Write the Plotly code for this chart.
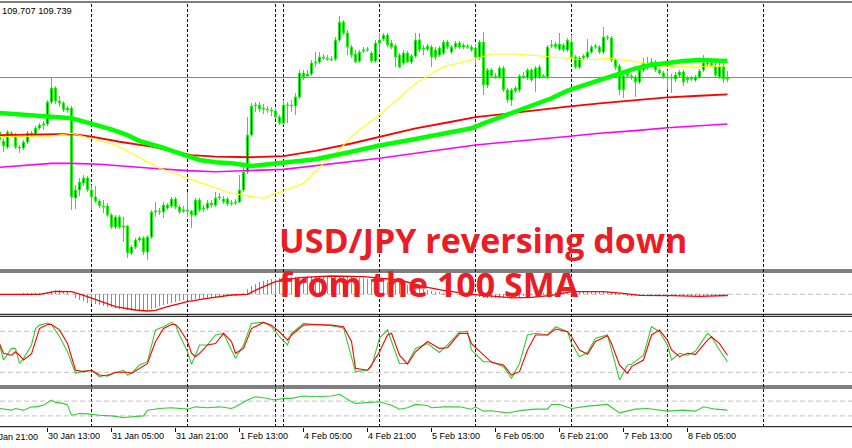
import plotly.graph_objects as go

# ---------------- DATA (USDJPY H1) ----------------
first_bar = -23  # bar index of first candle (bar 0 = 31 Jan 00:00)

opens = [109.311,109.304,109.263,109.359,109.345,109.263,109.256,109.297,109.359,109.352,
 109.393,109.414,109.421,109.571,109.667,109.578,109.564,109.517,109.530,108.914,
 108.969,109.017,109.051,108.969,108.921,108.893,108.859,108.859,108.797,108.715,
 108.784,108.715,108.722,108.537,108.578,108.626,108.640,108.544,108.647,108.818,
 108.825,108.818,108.845,108.859,108.907,108.852,108.825,108.832,108.825,108.797,
 108.900,108.838,108.845,108.879,108.866,108.914,108.907,108.907,108.873,108.879,
 108.886,108.969,109.092,109.345,109.544,109.551,109.523,109.523,109.517,109.510,
 109.469,109.427,109.544,109.551,109.544,109.606,109.770,109.749,109.763,109.838,
 109.845,109.880,109.873,109.866,109.866,109.996,110.119,110.044,109.948,109.900,
 109.852,109.921,109.928,109.907,109.852,109.975,110.003,110.030,109.975,109.955,
 109.893,109.838,109.907,109.845,109.886,109.996,109.934,109.934,109.948,109.928,
 109.893,109.907,109.982,109.914,109.948,109.975,109.948,109.955,109.948,109.941,
 109.880,109.982,109.688,109.791,109.749,109.743,109.804,109.654,109.585,109.667,
 109.654,109.743,109.736,109.791,109.736,109.811,109.743,109.743,109.955,109.969,
 109.934,109.962,109.928,109.982,109.880,109.811,109.873,109.880,109.914,109.948,
 109.948,109.914,110.017,110.010,109.859,109.818,109.749,109.763,109.749,109.743,
 109.708,109.791,109.832,109.838,109.845,109.791,109.770,109.743,109.743,109.729,
 109.756,109.777,109.736,109.729,109.722,109.743,109.791,109.838,109.838,109.818,
 109.743,109.818,109.729]

highs = [109.380,109.325,109.380,109.373,109.359,109.277,109.311,109.373,109.373,109.407,
 109.427,109.441,109.585,109.743,109.681,109.612,109.578,109.544,109.544,109.003,
 109.051,109.071,109.064,109.003,108.996,108.907,108.900,108.879,108.811,108.797,
 108.797,108.784,108.729,108.592,108.640,108.653,108.653,108.660,108.832,108.886,
 108.845,108.886,108.879,108.921,108.921,108.866,108.859,108.955,108.832,108.914,
 108.914,108.866,108.900,108.900,108.955,108.948,108.927,108.921,108.900,108.907,
 109.071,109.140,109.469,109.564,109.571,109.571,109.558,109.544,109.537,109.530,
 109.482,109.585,109.571,109.585,109.633,109.791,109.791,109.791,109.859,109.914,
 109.914,109.900,109.893,109.886,110.017,110.160,110.133,110.065,109.962,109.928,
 109.928,109.948,109.948,109.921,109.996,110.044,110.044,110.044,109.996,109.969,
 109.907,109.928,109.921,109.900,110.044,110.044,109.962,109.969,109.962,109.948,
 109.955,109.996,109.996,109.962,109.989,109.989,109.975,109.969,109.962,109.969,
 109.996,110.051,109.804,109.804,109.770,109.818,109.818,109.667,109.667,109.681,
 109.763,109.777,109.804,109.804,109.818,109.825,109.763,109.962,109.996,109.982,
 110.044,109.975,110.010,110.030,109.893,109.886,109.900,110.003,109.962,109.969,
 109.962,110.085,110.030,110.023,109.873,109.832,109.777,109.791,109.763,109.756,
 109.804,109.873,109.880,109.873,109.859,109.804,109.784,109.791,109.763,109.777,
 109.791,109.791,109.749,109.749,109.756,109.797,109.893,109.859,109.873,109.845,
 109.838,109.838,109.784]

lows = [109.297,109.229,109.249,109.332,109.249,109.222,109.243,109.284,109.332,109.338,
 109.380,109.380,109.407,109.558,109.558,109.537,109.503,109.496,108.832,108.838,
 108.927,108.996,108.955,108.832,108.879,108.845,108.811,108.784,108.701,108.701,
 108.701,108.612,108.503,108.523,108.564,108.612,108.523,108.489,108.633,108.784,
 108.797,108.777,108.832,108.845,108.838,108.804,108.811,108.784,108.708,108.784,
 108.818,108.818,108.832,108.845,108.852,108.900,108.873,108.859,108.859,108.866,
 108.879,108.955,109.078,109.332,109.503,109.503,109.489,109.496,109.475,109.455,
 109.414,109.414,109.427,109.503,109.482,109.592,109.722,109.736,109.749,109.811,
 109.832,109.859,109.852,109.852,109.852,109.982,110.030,109.893,109.873,109.838,
 109.838,109.907,109.914,109.838,109.838,109.907,109.989,109.948,109.934,109.811,
 109.804,109.825,109.838,109.832,109.873,109.914,109.893,109.921,109.811,109.859,
 109.880,109.893,109.934,109.900,109.934,109.934,109.934,109.934,109.914,109.825,
 109.859,109.619,109.667,109.736,109.729,109.729,109.640,109.564,109.544,109.633,
 109.640,109.729,109.722,109.708,109.640,109.729,109.736,109.729,109.941,109.934,
 109.921,109.914,109.914,109.866,109.797,109.797,109.859,109.866,109.900,109.934,
 109.900,109.900,109.996,109.845,109.791,109.619,109.599,109.736,109.722,109.606,
 109.695,109.777,109.791,109.818,109.777,109.756,109.729,109.654,109.633,109.708,
 109.736,109.681,109.701,109.715,109.708,109.729,109.777,109.818,109.811,109.743,
 109.729,109.701,109.707]

closes = [109.366,109.270,109.366,109.345,109.263,109.256,109.297,109.359,109.352,109.393,
 109.414,109.421,109.571,109.667,109.578,109.564,109.517,109.530,108.921,108.969,
 109.023,109.051,108.969,108.921,108.893,108.859,108.852,108.797,108.715,108.784,
 108.715,108.722,108.537,108.578,108.626,108.640,108.544,108.647,108.818,108.825,
 108.818,108.866,108.866,108.907,108.852,108.818,108.832,108.825,108.797,108.900,
 108.832,108.845,108.879,108.866,108.914,108.921,108.886,108.873,108.879,108.886,
 108.969,109.092,109.345,109.544,109.551,109.523,109.530,109.517,109.510,109.469,
 109.427,109.551,109.551,109.544,109.606,109.770,109.743,109.763,109.838,109.845,
 109.880,109.873,109.866,109.859,109.996,110.119,110.044,109.948,109.893,109.845,
 109.914,109.928,109.934,109.852,109.975,109.996,110.030,109.962,109.948,109.880,
 109.811,109.907,109.845,109.886,109.996,109.928,109.941,109.955,109.880,109.880,
 109.941,109.982,109.948,109.948,109.975,109.948,109.962,109.948,109.928,109.880,
 109.982,109.688,109.791,109.749,109.743,109.804,109.654,109.585,109.654,109.647,
 109.749,109.749,109.791,109.722,109.804,109.743,109.749,109.948,109.962,109.948,
 109.969,109.928,109.996,109.880,109.811,109.873,109.886,109.914,109.948,109.955,
 109.914,110.017,110.010,109.859,109.811,109.654,109.654,109.749,109.736,109.708,
 109.791,109.838,109.838,109.845,109.791,109.770,109.743,109.736,109.736,109.756,
 109.777,109.708,109.722,109.736,109.743,109.784,109.838,109.832,109.825,109.756,
 109.818,109.729,109.739]

# Moving averages (read at sample bars)
ma_green_idx = [-23,-15,-11,-5,-1,2,5,9,12,17,22,27,31,35,40,44,48,56,65,72,81,90,95,98,106,115,119,127,132,136,140,144,148,152,159]
ma_green = [109.496,109.482,109.469,109.460,109.430,109.407,109.384,109.345,109.304,109.265,
 109.220,109.174,109.158,109.151,109.133,109.145,109.151,109.179,109.231,109.273,
 109.318,109.362,109.391,109.425,109.505,109.597,109.649,109.722,109.768,109.802,
 109.825,109.841,109.852,109.859,109.852]
ma_red_idx = [-23,-10,-5,0,7,15,19,25,31,40,48,56,65,72,81,90,96,106,115,119,127,136,144,152,159]
ma_red = [109.345,109.352,109.352,109.334,109.299,109.265,109.243,109.208,109.197,109.193,
 109.201,109.236,109.287,109.332,109.391,109.436,109.467,109.498,109.528,109.539,
 109.562,109.585,109.603,109.614,109.624]
ma_yellow_idx = [-23,-15,-10,-5,0,6,10,17,24,30,35,40,43,46,48,53,58,62,65,67,72,81,88,95,100,106,115,119,123,130,136,144,152,159]
ma_yellow = [109.334,109.334,109.338,109.357,109.323,109.277,109.220,109.117,109.049,108.991,
 108.946,108.923,108.912,108.946,108.962,109.014,109.151,109.247,109.334,109.380,
 109.482,109.699,109.813,109.859,109.900,109.900,109.882,109.871,109.859,109.871,
 109.847,109.813,109.813,109.818]
ma_magenta_idx = [-23,-10,-5,2,15,24,31,40,48,72,96,119,127,136,144,152,159]
ma_magenta = [109.124,109.151,109.151,109.145,109.117,109.101,109.094,109.101,109.110,109.186,
 109.277,109.335,109.357,109.375,109.395,109.409,109.421]
bid_price = 109.739

# MACD histogram (every bar) and signal line
macd_hist = [0.002,0.002,0.003,0.003,0.002,0.003,0.004,0.004,0.005,0.006,0.008,0.012,
 0.02,0.035,0.04,0.04,0.035,0.03,0.0,
 -0.04,-0.055,-0.07,-0.085,-0.095,
 -0.1,-0.107,-0.115,-0.122,-0.13,-0.138,-0.145,-0.15,-0.158,-0.165,
 -0.167,-0.165,-0.162,-0.155,-0.145,-0.135,-0.12,-0.11,-0.1,-0.09,
 -0.08,-0.07,-0.06,-0.057,-0.052,-0.047,-0.044,-0.042,-0.04,-0.036,
 -0.032,-0.028,-0.024,-0.02,-0.016,-0.012,-0.005,0.015,0.05,0.085,
 0.105,0.122,0.135,0.145,0.152,0.158,0.163,0.168,0.17,0.173,
 0.175,0.176,0.178,0.18,0.18,0.181,0.182,0.182,0.182,0.18,
 0.178,0.176,0.174,0.172,0.17,0.167,0.164,0.16,0.155,0.15,
 0.144,0.138,0.132,0.126,0.12,0.115,0.11,0.104,0.098,0.09,
 0.08,0.07,0.055,0.04,0.03,0.025,0.02,0.015,0.01,0.005,
 0.0,-0.005,-0.01,-0.015,-0.02,-0.025,-0.03,-0.035,-0.04,-0.04,
 -0.04,-0.04,-0.04,-0.038,-0.035,-0.03,-0.025,-0.02,-0.01,-0.005,
 0.0,0.005,0.01,0.015,0.02,0.022,0.025,0.027,0.028,0.03,
 0.028,0.026,0.025,0.025,0.024,0.024,0.023,0.022,0.02,0.016,
 0.01,0.002,-0.005,-0.01,-0.012,-0.014,-0.015,-0.016,-0.016,-0.016,
 -0.015,-0.014,-0.014,-0.013,-0.013,-0.014,-0.015,-0.016,-0.017,-0.018,
 -0.018,-0.017,-0.016,-0.015,-0.014,-0.013,-0.014,-0.015,-0.016]
macd_sig_idx = [-23,-13,-9,-5,-1,2,6,11,14,16,19,24,29,35,39,42,46,52,60,68,77,84,88,95,100,105,110,115,120,128,133,137,145,152,159]
macd_sig = [0,0,0.03,0.026,-0.024,-0.067,-0.124,-0.157,-0.167,-0.16,
 -0.124,-0.074,-0.04,-0.007,0,0.06,0.126,0.166,0.183,0.176,
 0.143,0.07,0.04,0,-0.02,-0.035,-0.03,-0.01,0.026,0.026,
 0.01,-0.01,-0.014,-0.02,-0.012]

# Stochastic
stoch_idx = [-23,-22,-20,-19,-18,-17,-15,-14,-13,-11,-10,-8,-6,-4,-2,0,2,4,6,8,9,10,12,14,16,18,20,21,22,24,
 25,26,27,29,31,33,35,36,38,40,43,45,47,49,50,53,56,60,63,65,66,69,70,72,74,75,77,79,81,84,
 87,89,92,94,95,98,100,103,105,107,109,111,114,116,119,120,122,124,126,129,130,132,134,135,138,140,142,144,145,147,
 149,151,154,155,157,159]
stoch_k = [60,38,55,55,33,40,60,84,89,92,90,72,50,18.5,22,23,13.6,16,19.5,23,16,18.5,30.7,35.5,82,86.7,93,89,74.6,50,
 31.7,45,60,60,74.6,77,52.6,40.5,60,91.6,93,86.7,72,60,77,91.6,90,88,85,40.5,21,23,28.3,69.7,82,65,33,33,55,62,
 49,60,79,80,52.6,35.5,35.5,28.3,11.3,33,74.6,77,74.6,86.7,79.4,62,42.8,49,69.7,74.6,52.6,8.8,30.7,31.7,45,86.7,79.4,60,38,47.8,
 45,51,77,72,52.6,35.5]
stoch_d = [62,48,45,50,45,38,47,65,84,90,90,82,62,23,21,23,16,14.6,20,20,20,18.5,25.8,33,65,84,90,90,84,65,
 48,42.8,47.8,60,62,77,65,47.8,55,84,93,89,79,67,74.6,89,90,89,86.7,65,25.8,23,30.7,50,74.6,77,45,32,50,65,
 55,56,77,77,62,45,34.6,30.7,16,21,52.6,74.6,74.6,83.3,79.4,72,52.6,46.3,65,73.5,62,30.7,18.5,28.3,38,74.6,82,67,52.6,42.8,
 47.8,46.3,67,72,62,45]

# RSI
rsi_idx = [-23,-20,-19,-17,-15,-14,-12,-10,-9,-7,-6,-5,-3,-1,2,5,8,10,13,14,17,20,24,26,29,32,35,36,39,41,
 43,46,48,50,53,56,60,62,65,66,69,72,75,77,79,81,84,85,88,92,95,96,98,100,104,108,111,114,115,117,
 120,124,127,129,132,136,139,144,148,151,153,156,159]
rsi_vals = [50,45.5,50,45.5,54.5,54.5,59,72.8,66.5,63.8,59,31.9,36.5,35.5,31.9,30,25.6,28,30,45.5,
 50,51.9,48.2,54.5,51.9,54.5,50,54.5,72.8,81.7,79,72.8,77.4,77.4,83.6,81.7,83.6,88.3,68.1,63.8,
 65,68.1,59,48.2,51.9,61,58,51.9,54.5,54.5,48.2,54.5,42.8,44,38.2,45.5,48.2,48.2,61,61,
 50,56.4,59,61,38.2,48.2,50,42.8,45.5,42.8,54.5,48.2,45.5]

# Time axis labels (bar index -> label)
tick_idx = [-11,5,21,37,53,69,85,101,117,133,149]
tick_text = ["30 Jan 13:00","31 Jan 05:00","31 Jan 21:00","1 Feb 13:00","4 Feb 05:00",
             "4 Feb 21:00","5 Feb 13:00","6 Feb 05:00","6 Feb 21:00","7 Feb 13:00","8 Feb 05:00"]
cut_label_idx = -27
cut_label_text = "29 Jan 21:00"
separator_idx = [0,24,46,48,72,96,120,144,168]

# ---------------- LAYOUT GEOMETRY ----------------
W, H = 852, 448
MB = 21
PH = H - MB  # plot area height
X_RANGE = [-22.875, 190.125]


def pf(px):
    return (PH - px) / PH


def xpaper(bar):
    return (bar - X_RANGE[0]) / (X_RANGE[1] - X_RANGE[0])


bars = list(range(first_bar, first_bar + len(opens)))
hist_x = list(range(first_bar, first_bar + len(macd_hist)))

fig = go.Figure()

# moving averages (drawn under the candles)
fig.add_trace(go.Scatter(x=ma_magenta_idx, y=ma_magenta, mode="lines",
                         line=dict(color="#FF00FF", width=1.6), hoverinfo="skip"))
fig.add_trace(go.Scatter(x=ma_red_idx, y=ma_red, mode="lines",
                         line=dict(color="#FF0000", width=1.8), hoverinfo="skip"))
fig.add_trace(go.Scatter(x=ma_yellow_idx, y=ma_yellow, mode="lines",
                         line=dict(color="#FFFF00", width=1.1), hoverinfo="skip"))
fig.add_trace(go.Scatter(x=ma_green_idx, y=ma_green, mode="lines",
                         line=dict(color="#00FF00", width=4.5), hoverinfo="skip"))

fig.add_trace(go.Candlestick(
    x=bars, open=opens, high=highs, low=lows, close=closes,
    increasing=dict(line=dict(color="#00FF00", width=1), fillcolor="#000000"),
    decreasing=dict(line=dict(color="#00FF00", width=1), fillcolor="#FF0000"),
    whiskerwidth=0, hoverinfo="skip"))

# MACD
fig.add_trace(go.Bar(x=hist_x, y=macd_hist, width=0.25, marker=dict(color="#32CD32", line=dict(width=0)),
                     yaxis="y2", hoverinfo="skip"))
fig.add_trace(go.Scatter(x=macd_sig_idx, y=macd_sig, mode="lines", yaxis="y2",
                         line=dict(color="#FF0000", width=1.3), hoverinfo="skip"))
# Stochastic
fig.add_trace(go.Scatter(x=stoch_idx, y=stoch_k, mode="lines", yaxis="y3",
                         line=dict(color="#32CD32", width=1.1), hoverinfo="skip"))
fig.add_trace(go.Scatter(x=stoch_idx, y=stoch_d, mode="lines", yaxis="y3",
                         line=dict(color="#FF0000", width=1.1), hoverinfo="skip"))
# RSI
fig.add_trace(go.Scatter(x=rsi_idx, y=rsi_vals, mode="lines", yaxis="y4",
                         line=dict(color="#32CD32", width=1.1), hoverinfo="skip"))

shapes = []
# panel borders
for p in [2, 270, 272, 314.3, 316.3, 386, 388, 426.7]:
    shapes.append(dict(type="line", xref="paper", yref="paper", x0=0, x1=1, y0=pf(p), y1=pf(p),
                       line=dict(color="#000000", width=1), layer="above"))
# day separators
for s in separator_idx:
    shapes.append(dict(type="line", xref="x", yref="paper", x0=s, x1=s, y0=0, y1=pf(2),
                       line=dict(color="#000000", width=1, dash="3px,2px"), layer="below"))
# bid line
shapes.append(dict(type="line", xref="paper", yref="y", x0=0, x1=1, y0=bid_price, y1=bid_price,
                   line=dict(color="#7F8A93", width=1), layer="below"))
# indicator levels
for yr, lv in [("y2", 0), ("y3", 20), ("y3", 80), ("y4", 30), ("y4", 70)]:
    shapes.append(dict(type="line", xref="paper", yref=yr, x0=0, x1=1, y0=lv, y1=lv,
                       line=dict(color="#C0C0C0", width=1, dash="5px,3px"), layer="below"))

annotations = [
    dict(text="USD/JPY reversing down", xref="paper", yref="paper", x=277 / W, y=pf(240),
         xanchor="left", yanchor="middle", showarrow=False,
         font=dict(family="Open Sans", size=34, color="#EC1C24", weight=700)),
    dict(text="from the 100 SMA", xref="paper", yref="paper", x=277 / W, y=pf(284),
         xanchor="left", yanchor="middle", showarrow=False,
         font=dict(family="Open Sans", size=34, color="#EC1C24", weight=700)),
    dict(text="109.707 109.739", xref="paper", yref="paper", x=0, y=pf(11),
         xanchor="left", yanchor="middle", showarrow=False,
         font=dict(family="Liberation Sans", size=9.3, color="#000000")),
    dict(text=cut_label_text, xref="paper", yref="paper", x=xpaper(cut_label_idx), y=pf(437),
         xanchor="left", yanchor="middle", showarrow=False,
         font=dict(family="Liberation Sans", size=9, color="#000000")),
]

fig.update_layout(
    width=W, height=H, autosize=False,
    margin=dict(l=0, r=0, t=0, b=MB, pad=0),
    paper_bgcolor="#FFFFFF", plot_bgcolor="#FFFFFF",
    showlegend=False, bargap=0, boxgap=0.4,
    xaxis=dict(domain=[0, 1], anchor="y4", range=X_RANGE,
               tickmode="array", tickvals=tick_idx, ticktext=tick_text,
               ticks="outside", ticklen=4, tickcolor="#000000", tickwidth=1,
               ticklabelposition="outside right",
               tickfont=dict(family="Liberation Sans", size=9, color="#000000"),
               showgrid=False, zeroline=False, showline=False,
               rangeslider=dict(visible=False), fixedrange=True),
    yaxis=dict(domain=[pf(270), pf(2)], range=[108.4205, 110.2563], visible=False, fixedrange=True),
    yaxis2=dict(domain=[pf(314.3), pf(272)], range=[-0.20, 0.223], visible=False, anchor="x", fixedrange=True),
    yaxis3=dict(domain=[pf(386), pf(316.3)], range=[0, 101.9], visible=False, anchor="x", fixedrange=True),
    yaxis4=dict(domain=[0, pf(388)], range=[0, 105.4], visible=False, anchor="x", fixedrange=True),
    shapes=shapes, annotations=annotations,
)

fig.write_html("out.html", config={"displayModeBar": False})
